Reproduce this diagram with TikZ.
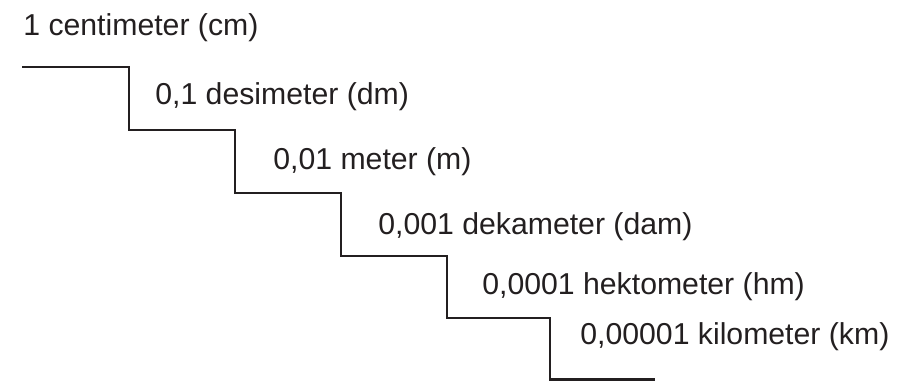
\documentclass[tikz,border=0pt]{standalone}
\usepackage{fontspec}
\setmainfont{Liberation Sans}

\definecolor{ink}{HTML}{231F20}

\tikzset{
  unit/.style={anchor=base west,inner sep=0pt,text=ink,font=\fontsize{17.2}{20}\selectfont},
  stair/.style={draw=ink,line width=1.15pt,line join=miter}
}

\begin{document}
\begin{tikzpicture}[x=0.02cm,y=-0.02cm]
  \useasboundingbox (0,0) rectangle (897,381);

  \coordinate (p0) at (22,67);
  \coordinate (p1) at (129,67);
  \coordinate (p2) at (129,130);
  \coordinate (p3) at (235,130);
  \coordinate (p4) at (235,193);
  \coordinate (p5) at (341,193);
  \coordinate (p6) at (341,256);
  \coordinate (p7) at (447,256);
  \coordinate (p8) at (447,318);
  \coordinate (p9) at (550,318);
  \coordinate (p10) at (550,379.5);
  \coordinate (p11) at (655,379.5);

  \draw[stair] (p0) -- (p1) -- (p2) -- (p3) -- (p4) -- (p5) -- (p6)
    -- (p7) -- (p8) -- (p9) -- (p10) -- (p11);

  \node[unit] (cm)  at (23,36)  {1 centimeter (cm)};
  \node[unit] (dm)  at (155,105) {0,1 desimeter (dm)};
  \node[unit] (m)   at (273,170) {0,01 meter (m)};
  \node[unit] (dam) at (378,235) {0,001 dekameter (dam)};
  \node[unit] (hm)  at (482,295) {0,0001 hektometer (hm)};
  \node[unit] (km)  at (580,345) {0,00001 kilometer (km)};
\end{tikzpicture}
\end{document}
